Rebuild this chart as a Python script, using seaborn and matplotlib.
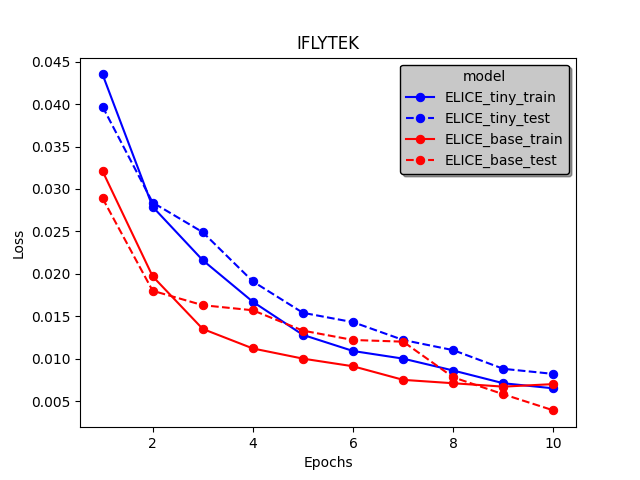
import matplotlib
matplotlib.use("Agg")
import matplotlib.pyplot as plt
import seaborn as sns

epochs = [1, 2, 3, 4, 5, 6, 7, 8, 9, 10]
tiny_train = [0.0435, 0.0279, 0.0216, 0.0167, 0.0128, 0.0109, 0.0100, 0.0086, 0.0071, 0.0065]
tiny_test = [0.0397, 0.0284, 0.0249, 0.0191, 0.0154, 0.0143, 0.0122, 0.0110, 0.0088, 0.0082]
base_train = [0.0321, 0.0197, 0.0135, 0.0112, 0.0100, 0.0091, 0.0075, 0.0071, 0.0067, 0.0070]
base_test = [0.0289, 0.0180, 0.0163, 0.0157, 0.0133, 0.0122, 0.0120, 0.0078, 0.0058, 0.0039]

series = [
    ("ELICE_tiny_train", tiny_train, "blue", "-"),
    ("ELICE_tiny_test", tiny_test, "blue", "--"),
    ("ELICE_base_train", base_train, "red", "-"),
    ("ELICE_base_test", base_test, "red", "--"),
]

fig, ax = plt.subplots(figsize=(6.4, 4.8), dpi=100)
for name, vals, color, ls in series:
    sns.lineplot(x=epochs, y=vals, ax=ax, color=color, linestyle=ls,
                 marker="o", markeredgecolor=color, label=name)

ax.set_title("IFLYTEK")
ax.set_xlabel("Epochs")
ax.set_ylabel("Loss")
ax.set_xticks([2, 4, 6, 8, 10])
leg = ax.legend(title="model", loc="upper right", facecolor="#c8c8c8",
                edgecolor="black", shadow=True, framealpha=1)
fig.savefig("out.png")
